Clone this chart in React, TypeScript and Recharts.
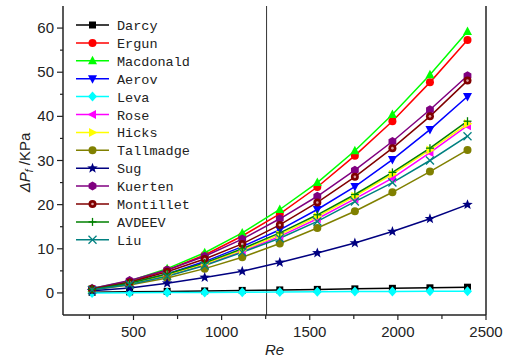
import React from 'react';
import { LineChart, Line, XAxis, YAxis, ReferenceLine, Legend } from 'recharts';

// Reynolds numbers of the 11 measurement points
const reValues = [265, 478, 691, 904, 1117, 1330, 1543, 1756, 1969, 2182, 2395];

// pressure drop (KPa) per correlation
const darcy = [0.13, 0.24, 0.35, 0.46, 0.57, 0.68, 0.8, 0.92, 1.04, 1.16, 1.3];
const ergun = [0.95, 2.5, 5.2, 8.6, 12.9, 17.9, 24.0, 31.1, 38.9, 47.7, 57.3];
const macdonald = [1.0, 2.7, 5.5, 9.1, 13.6, 18.9, 25.0, 32.2, 40.4, 49.4, 59.2];
const aerov = [0.8, 2.2, 4.3, 7.1, 10.5, 14.3, 18.9, 24.1, 30.2, 37.0, 44.5];
const leva = [0.0, 0.05, 0.1, 0.12, 0.15, 0.2, 0.25, 0.3, 0.33, 0.37, 0.4];
const rose = [0.75, 2.0, 3.9, 6.4, 9.4, 12.8, 16.8, 21.3, 26.0, 31.8, 37.9];
const hicks = [0.8, 2.1, 4.1, 6.6, 9.7, 13.2, 17.3, 21.9, 26.9, 32.4, 38.3];
const tallmadge = [0.7, 1.8, 3.4, 5.5, 8.1, 11.2, 14.7, 18.5, 22.8, 27.5, 32.4];
const sug = [0.5, 1.1, 2.2, 3.5, 4.9, 6.9, 9.05, 11.3, 13.9, 16.8, 20.0];
const kuerten = [1.0, 2.8, 5.2, 8.3, 12.2, 16.8, 21.9, 27.8, 34.3, 41.5, 49.2];
const montillet = [0.9, 2.4, 4.8, 7.7, 11.1, 15.4, 20.5, 26.3, 32.8, 40.0, 48.1];
const avdeev = [0.8, 2.2, 4.3, 6.8, 10.0, 13.6, 17.7, 22.3, 27.3, 32.8, 38.9];
const liu = [0.7, 1.9, 3.8, 6.2, 9.2, 12.4, 16.2, 20.7, 25.0, 30.0, 35.5];

const xTicks = [250, 500, 750, 1000, 1250, 1500, 1750, 2000, 2250, 2500];
const yTicks = [0, 5, 10, 15, 20, 25, 30, 35, 40, 45, 50, 55, 60];

const seriesList = [
  { name: 'Darcy', color: '#000000', marker: 'square', values: darcy },
  { name: 'Ergun', color: '#ff0000', marker: 'circle', values: ergun },
  { name: 'Macdonald', color: '#00ff00', marker: 'triUp', values: macdonald },
  { name: 'Aerov', color: '#0000ff', marker: 'triDown', values: aerov },
  { name: 'Leva', color: '#00ffff', marker: 'diamond', values: leva },
  { name: 'Rose', color: '#ff00ff', marker: 'triLeft', values: rose },
  { name: 'Hicks', color: '#ffff00', marker: 'triRight', values: hicks },
  { name: 'Tallmadge', color: '#808000', marker: 'circle', values: tallmadge },
  { name: 'Sug', color: '#000080', marker: 'star', values: sug },
  { name: 'Kuerten', color: '#800080', marker: 'hexagon', values: kuerten },
  { name: 'Montillet', color: '#800000', marker: 'dotCircle', values: montillet },
  { name: 'AVDEEV', color: '#008000', marker: 'plus', values: avdeev },
  { name: 'Liu', color: '#008080', marker: 'cross', values: liu },
];

const data = reValues.map((re, i) => {
  const row: any = { re };
  seriesList.forEach(s => { row[s.name] = s.values[i]; });
  return row;
});

const FONT = '"Liberation Sans", Arial, sans-serif';
const AXIS = '#222';

const drawMarker = (kind: string, x: number, y: number, color: string) => {
  const pts = (arr: number[][]) => arr.map(p => `${x + p[0]},${y + p[1]}`).join(' ');
  switch (kind) {
    case 'square':
      return <rect x={x - 3.5} y={y - 3.5} width={7} height={7} fill={color} />;
    case 'circle':
      return <circle cx={x} cy={y} r={4} fill={color} />;
    case 'dotCircle':
      return (
        <g>
          <circle cx={x} cy={y} r={4} fill={color} />
          <circle cx={x} cy={y} r={1.3} fill="#d8a0a0" />
        </g>
      );
    case 'triUp':
      return <polygon points={pts([[0, -5], [4.5, 3.5], [-4.5, 3.5]])} fill={color} />;
    case 'triDown':
      return <polygon points={pts([[0, 5], [4.5, -3.5], [-4.5, -3.5]])} fill={color} />;
    case 'triLeft':
      return <polygon points={pts([[-5, 0], [3.5, -4.5], [3.5, 4.5]])} fill={color} />;
    case 'triRight':
      return <polygon points={pts([[5, 0], [-3.5, -4.5], [-3.5, 4.5]])} fill={color} />;
    case 'diamond':
      return <polygon points={pts([[0, -5], [4.5, 0], [0, 5], [-4.5, 0]])} fill={color} />;
    case 'hexagon': {
      const h: number[][] = [];
      for (let k = 0; k < 6; k++) {
        const a = (Math.PI / 3) * k + Math.PI / 6;
        h.push([4.5 * Math.cos(a), 4.5 * Math.sin(a)]);
      }
      return <polygon points={pts(h)} fill={color} />;
    }
    case 'star': {
      const s: number[][] = [];
      for (let k = 0; k < 10; k++) {
        const a = -Math.PI / 2 + (Math.PI / 5) * k;
        const r = k % 2 === 0 ? 5.5 : 2.3;
        s.push([r * Math.cos(a), r * Math.sin(a)]);
      }
      return <polygon points={pts(s)} fill={color} />;
    }
    case 'plus':
      return (
        <g stroke={color} strokeWidth={1.3}>
          <line x1={x - 4} x2={x + 4} y1={y} y2={y} />
          <line x1={x} x2={x} y1={y - 4} y2={y + 4} />
        </g>
      );
    case 'cross':
      return (
        <g stroke={color} strokeWidth={1.3}>
          <line x1={x - 4} x2={x + 4} y1={y - 4} y2={y + 4} />
          <line x1={x - 4} x2={x + 4} y1={y + 4} y2={y - 4} />
        </g>
      );
    default:
      return null;
  }
};

const LeftTick = (p: any) => {
  const v = p.payload.value;
  const major = v % 10 === 0;
  return (
    <g>
      <line x1={p.x - (major ? 6 : 3)} x2={p.x} y1={p.y} y2={p.y} stroke={AXIS} strokeWidth={1.2} />
      {major && (
        <text x={p.x - 9} y={p.y} dy={5} textAnchor="end" fontFamily={FONT} fontSize={15} fill={AXIS}>
          {v}
        </text>
      )}
    </g>
  );
};

const RightTick = (p: any) => {
  const major = p.payload.value % 10 === 0;
  return <line x1={p.x - (major ? 6 : 3)} x2={p.x} y1={p.y} y2={p.y} stroke={AXIS} strokeWidth={1.2} />;
};

const BottomTick = (p: any) => {
  const v = p.payload.value;
  const major = v % 500 === 0;
  return (
    <g>
      <line x1={p.x} x2={p.x} y1={p.y} y2={p.y + (major ? 5 : 4)} stroke={AXIS} strokeWidth={1.2} />
      {major && (
        <text x={p.x} y={p.y + 22} textAnchor="middle" fontFamily={FONT} fontSize={15} fill={AXIS}>
          {v}
        </text>
      )}
    </g>
  );
};

const renderLegend = () => (
  <svg width={511} height={360}>
    {seriesList.map((s, i) => {
      const y = 25 + i * 17.9;
      return (
        <g key={s.name}>
          <line x1={76} x2={109} y1={y} y2={y} stroke={s.color} strokeWidth={1.5} />
          {drawMarker(s.marker, 92.5, y, s.color)}
          <text x={117} y={y} dy={5} fontFamily='"Liberation Mono", "Courier New", monospace' fontSize={13.5} fill="#222">
            {s.name}
          </text>
        </g>
      );
    })}
  </svg>
);

export default function App() {
  return (
    <div style={{ position: 'absolute', left: 0, top: 0, background: '#fff' }}>
      <LineChart width={511} height={360} data={data} margin={{ top: 6, right: 0, bottom: 0, left: 0 }}>
        <XAxis
          dataKey="re"
          type="number"
          domain={[100, 2500]}
          ticks={xTicks}
          interval={0}
          height={45}
          tickSize={0}
          tickMargin={0}
          tickLine={false}
          axisLine={{ stroke: AXIS, strokeWidth: 1.5 }}
          tick={<BottomTick />}
          label={{
            content: (props: any) => {
              const vb = props.viewBox;
              return (
                <text x={vb.x + vb.width / 2} y={vb.y + 40} textAnchor="middle" fontFamily={FONT} fontSize={15} fontStyle="italic" fill={AXIS}>
                  Re
                </text>
              );
            },
          }}
        />
        <XAxis xAxisId="top" orientation="top" dataKey="re" type="number" domain={[100, 2500]} height={0} tick={false} tickLine={false} axisLine={{ stroke: AXIS, strokeWidth: 1.5 }} />
        <YAxis
          type="number"
          domain={[-5, 65]}
          ticks={yTicks}
          interval={0}
          width={63}
          tickSize={0}
          tickMargin={0}
          tickLine={false}
          axisLine={{ stroke: AXIS, strokeWidth: 1.5 }}
          tick={<LeftTick />}
          label={{
            content: (props: any) => {
              const vb = props.viewBox;
              const cx = vb.x + 25;
              const cy = vb.y + vb.height / 2 + 2;
              return (
                <text transform={`rotate(-90 ${cx} ${cy})`} x={cx} y={cy} dy={5} textAnchor="middle" fontFamily={FONT} fontSize={15} fill={AXIS}>
                  <tspan fontStyle="italic">ΔP</tspan>
                  <tspan fontStyle="italic" fontSize={10} dy={3}>f</tspan>
                  <tspan dy={-3}> /KPa</tspan>
                </text>
              );
            },
          }}
        />
        <YAxis
          yAxisId="right"
          orientation="right"
          type="number"
          domain={[-5, 65]}
          ticks={yTicks}
          interval={0}
          width={25}
          tickSize={0}
          tickMargin={0}
          tickLine={false}
          axisLine={{ stroke: AXIS, strokeWidth: 1.5 }}
          tick={<RightTick />}
        />
        <ReferenceLine x={1255} stroke="#333" strokeWidth={1} />
        {seriesList.map(s => (
          <Line
            key={s.name}
            dataKey={s.name}
            stroke={s.color}
            strokeWidth={1.5}
            isAnimationActive={false}
            dot={(props: any) => <g key={`${s.name}-${props.index}`}>{drawMarker(s.marker, props.cx, props.cy, s.color)}</g>}
            activeDot={false}
          />
        ))}
        <Legend
          layout="vertical"
          align="center"
          verticalAlign="middle"
          content={renderLegend}
          wrapperStyle={{ position: 'absolute', left: 0, top: 0, width: 511, height: 360, pointerEvents: 'none' }}
        />
      </LineChart>
    </div>
  );
}
